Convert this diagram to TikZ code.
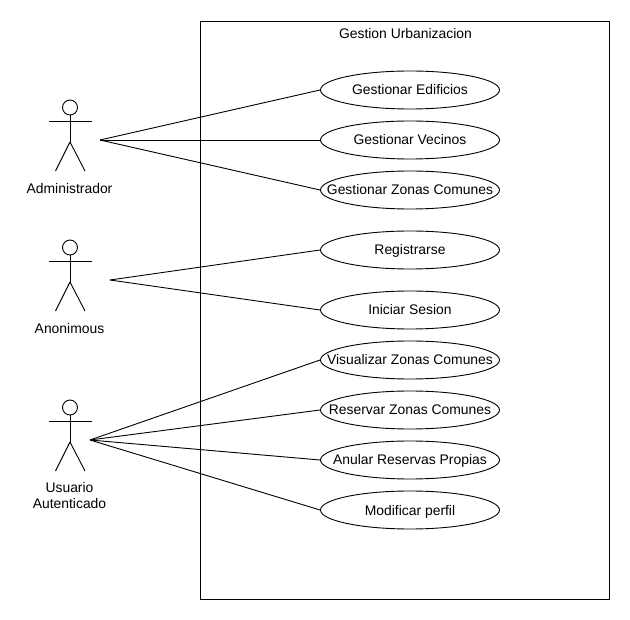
\documentclass[tikz,border=0pt]{standalone}
\usepackage{fontspec}
\setmainfont{Liberation Sans}
\usetikzlibrary{shapes.geometric}
\newcommand{\uctext}[1]{\makebox[0pt]{#1}}
\tikzset{
  uc/.style={draw=black,ellipse,minimum width=179pt,minimum height=38pt,inner sep=0pt,text height=10pt,text depth=0pt,line width=0.9pt,font=\fontsize{13.9pt}{16pt}\selectfont},
  lbl/.style={font=\fontsize{13.9pt}{16pt}\selectfont,align=center,inner sep=0pt},
  conn/.style={line width=0.9pt,draw=black},
  act/.style={line width=0.9pt,draw=black}
}
\newcommand{\actorfig}[2]{% x, y head-top
  \draw[act] (#1pt,-#2pt-7.5pt) circle (7.5pt);
  \draw[act] (#1pt,-#2pt-15pt) -- (#1pt,-#2pt-42pt);
  \draw[act] (#1pt-21pt,-#2pt-21pt) -- (#1pt+22pt,-#2pt-21pt);
  \draw[act] (#1pt,-#2pt-42pt) -- (#1pt-14.5pt,-#2pt-71pt);
  \draw[act] (#1pt,-#2pt-42pt) -- (#1pt+15pt,-#2pt-71pt);
}
\begin{document}
\begin{tikzpicture}[x=1pt,y=1pt]
\useasboundingbox (0,0) rectangle (630pt,-620pt);
\fill[white] (0,0) rectangle (630pt,-620pt);
\node[draw=black,line width=0.9pt,minimum width=409pt,minimum height=578pt,inner sep=0pt,anchor=north west] (sys) at (199.8pt,-20.8pt) {};
\node[lbl] (title) at (405.5pt,-33.4pt) {Gestion Urbanizacion};
\node[uc] (u1) at (410pt,-90pt) {\uctext{Gestionar Edificios}};
\node[uc] (u2) at (410pt,-140pt) {\uctext{Gestionar Vecinos}};
\node[uc] (u3) at (410pt,-190pt) {\uctext{Gestionar Zonas Comunes}};
\node[uc] (u4) at (410pt,-250pt) {\uctext{Registrarse}};
\node[uc] (u5) at (410pt,-310pt) {\uctext{Iniciar Sesion}};
\node[uc] (u6) at (410pt,-360pt) {\uctext{Visualizar Zonas Comunes}};
\node[uc] (u7) at (410pt,-410pt) {\uctext{Reservar Zonas Comunes}};
\node[uc] (u8) at (410pt,-460pt) {\uctext{Anular Reservas Propias}};
\node[uc] (u9) at (410pt,-510pt) {\uctext{Modificar perfil}};
\actorfig{70}{100}
\actorfig{70}{240}
\actorfig{70}{400}
\node[lbl] (a1) at (69.5pt,-189pt) {Administrador};
\node[lbl] (a2) at (69.5pt,-328.5pt) {Anonimous};
\node[lbl] (a3) at (69.5pt,-496pt) {Usuario\\Autenticado};
\coordinate (p1) at (100pt,-140pt);
\coordinate (p2) at (110pt,-280pt);
\coordinate (p3) at (90pt,-440pt);
\draw[conn] (p1) -- (u1.west);
\draw[conn] (p1) -- (u2.west);
\draw[conn] (p1) -- (u3.west);
\draw[conn] (p2) -- (u4.west);
\draw[conn] (p2) -- (u5.west);
\draw[conn] (p3) -- (u6.west);
\draw[conn] (p3) -- (u7.west);
\draw[conn] (p3) -- (u8.west);
\draw[conn] (p3) -- (u9.west);
\end{tikzpicture}
\end{document}
